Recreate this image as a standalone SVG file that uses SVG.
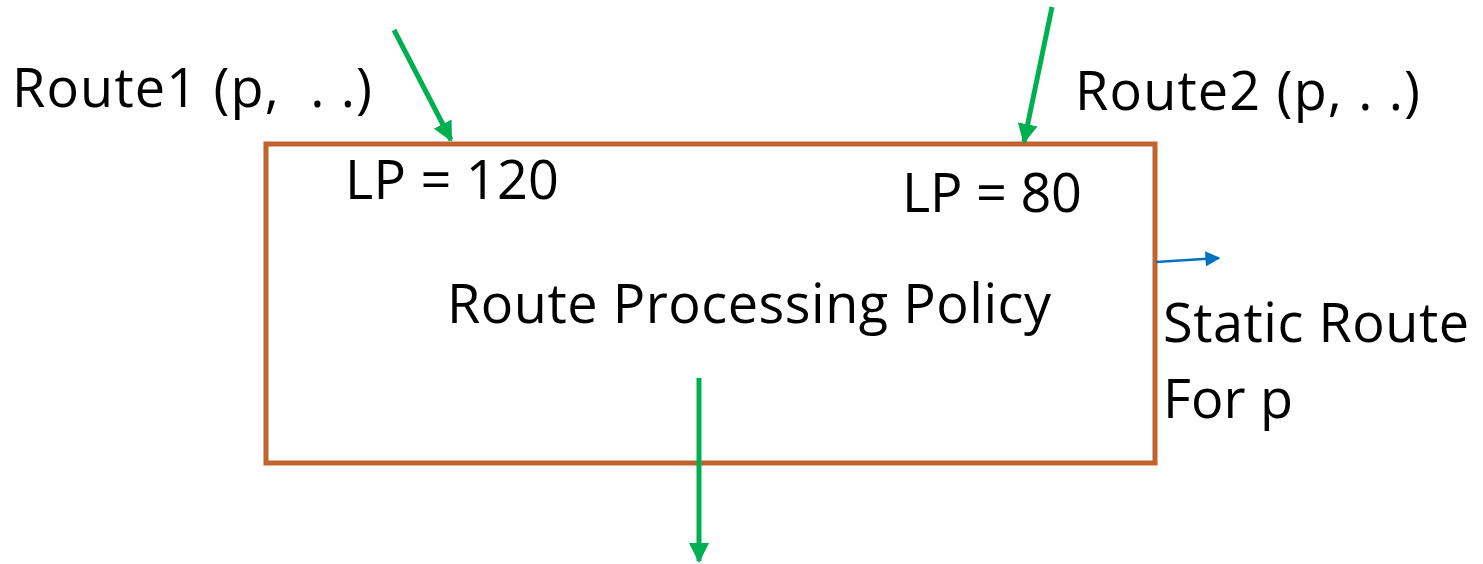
<svg xmlns="http://www.w3.org/2000/svg" width="1483" height="564" viewBox="0 0 1483 564">
  <style>
    .lbl { font-family: "Open Sans", "Liberation Sans", sans-serif; font-size: 54px; fill: #000; }
    .green { stroke: #00B050; stroke-width: 5; fill: none; }
    .blue { stroke: #0070C0; stroke-width: 2.5; fill: none; }
  </style>
  <defs>
    <marker id="headGreen" viewBox="0 0 10 10" refX="9" refY="5" markerWidth="4" markerHeight="4" orient="auto" markerUnits="strokeWidth">
      <path d="M0,0 L10,5 L0,10 Z" fill="#00B050"/>
    </marker>
    <marker id="headBlue" viewBox="0 0 10 10" refX="9" refY="5" markerWidth="7" markerHeight="6" orient="auto" markerUnits="strokeWidth">
      <path d="M0,0 L10,5 L0,10 Z" fill="#0070C0"/>
    </marker>
  </defs>

  <g id="policy-box">
    <rect x="266" y="144" width="889" height="319" fill="#fff" stroke="#C0632C" stroke-width="5"/>
    <text class="lbl" x="447" y="323" textLength="604">Route Processing Policy</text>
    <text class="lbl" x="345" y="199" textLength="214">LP = 120</text>
    <text class="lbl" x="902" y="212" textLength="180">LP = 80</text>
  </g>

  <g id="route1">
    <text class="lbl" x="12" y="107" textLength="360" xml:space="preserve">Route1 (p,  . .)</text>
  </g>
  <g id="route2">
    <text class="lbl" x="1075" y="110" textLength="345">Route2 (p, . .)</text>
  </g>
  <g id="static-route">
    <text class="lbl" x="1163" y="342" textLength="306">Static Route</text>
    <text class="lbl" x="1163" y="418" textLength="130">For p</text>
  </g>

  <g id="connectors">
    <line class="green" x1="394" y1="30" x2="451" y2="140" marker-end="url(#headGreen)"/>
    <line class="green" x1="1052" y1="7" x2="1024" y2="142" marker-end="url(#headGreen)"/>
    <line class="green" x1="699" y1="378" x2="699" y2="561" marker-end="url(#headGreen)"/>
    <line class="blue" x1="1156" y1="262" x2="1219" y2="258" marker-end="url(#headBlue)"/>
  </g>
</svg>
